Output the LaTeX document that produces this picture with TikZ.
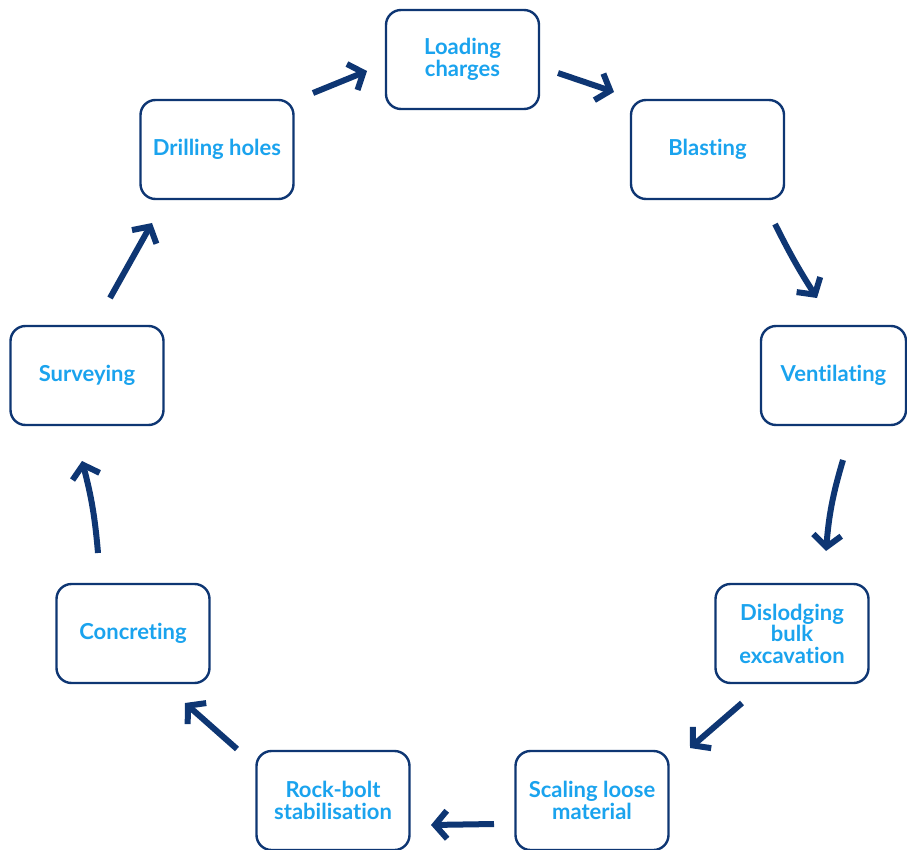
\documentclass[tikz,border=0pt]{standalone}
\usepackage{fontspec}
\setmainfont{Lato}[RawFeature=-liga]
\usetikzlibrary{arrows.meta}
\definecolor{navy}{HTML}{0E3673}
\definecolor{txtblue}{HTML}{1AA3EE}
\tikzset{
  stepbox/.style={draw=navy, line width=2.4pt, rounded corners=15pt, fill=white,
    minimum width=153pt, minimum height=99pt, inner sep=0pt,
    align=center, text=txtblue, font=\fontsize{22}{21.5}\selectfont\bfseries},
  flow/.style={draw=navy, line width=6pt,
    -{Straight Barb[length=12pt,width=28pt,line width=6pt]}}
}
\begin{document}
\begin{tikzpicture}[x=1pt,y=-1pt]
\useasboundingbox (0,0) rectangle (907,850);
\node[stepbox] (load) at (462.5,59.5) {Loading\\charges};
\node[stepbox] (blast) at (707.5,149.5) {Blasting};
\node[stepbox, minimum width=145pt] (vent) at (833.5,375.5) {Ventilating};
\node[stepbox] (disl) at (792,633.5) {Dislodging\\bulk\\excavation};
\node[stepbox] (scal) at (592,800.5) {Scaling loose\\material};
\node[stepbox] (rock) at (333,800.5) {Rock-bolt\\stabilisation};
\node[stepbox] (conc) at (133,633.5) {Concreting};
\node[stepbox] (surv) at (87,375.5) {Surveying};
\node[stepbox] (drill) at (217,149.5) {Drilling holes};

\coordinate (a1s) at (313,93);  \coordinate (a1e) at (367,71);
\coordinate (a2s) at (558,73);  \coordinate (a2e) at (614,92);
\coordinate (a3s) at (775,224); \coordinate (a3e) at (817,298);
\coordinate (a4s) at (843,460); \coordinate (a4e) at (826,551);
\coordinate (a5s) at (742,703); \coordinate (a5e) at (690,748);
\coordinate (a6s) at (494,824); \coordinate (a6e) at (431,825);
\coordinate (a7s) at (237,749); \coordinate (a7e) at (185,703);
\coordinate (a8s) at (98,553);  \coordinate (a8e) at (82,461);
\coordinate (a9s) at (110,298); \coordinate (a9e) at (152,223);

\draw[flow] (a1s) to (a1e);
\draw[flow] (a2s) to (a2e);
\draw[flow] (a3s) to[bend right=3] (a3e);
\draw[flow] (a4s) to[bend right=6] (a4e);
\draw[flow] (a5s) to (a5e);
\draw[flow] (a6s) to (a6e);
\draw[flow] (a7s) to (a7e);
\draw[flow] (a8s) to[bend right=5] (a8e);
\draw[flow] (a9s) to (a9e);
\end{tikzpicture}
\end{document}
